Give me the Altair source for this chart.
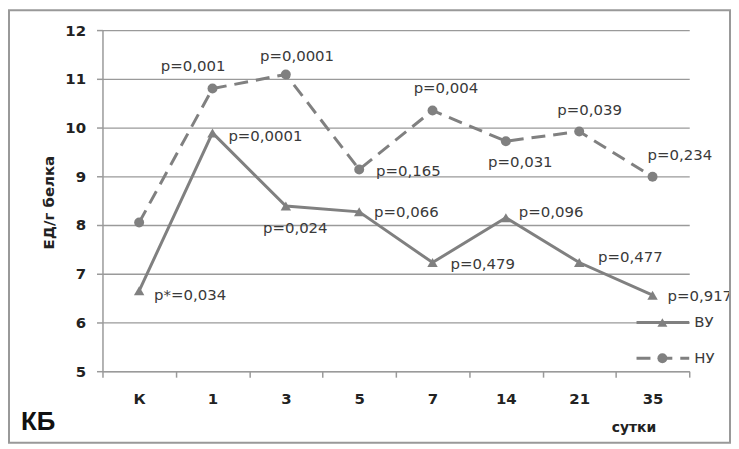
import altair as alt
import pandas as pd

# ---- data ----
days = ["К", "1", "3", "5", "7", "14", "21", "35"]
vu = [6.65, 9.89, 8.39, 8.27, 7.23, 8.15, 7.23, 6.56]
nu = [8.05, 10.80, 11.09, 9.14, 10.35, 9.72, 9.92, 8.99]
p_vu = ["p*=0,034", "p=0,0001", "p=0,024", "p=0,066", "p=0,479", "p=0,096", "p=0,477", "p=0,917"]
p_nu = ["", "p=0,001", "p=0,0001", "p=0,165", "p=0,004", "p=0,031", "p=0,039", "p=0,234"]
series_names = ["ВУ", "НУ"]
y_ticks = [5, 6, 7, 8, 9, 10, 11, 12]

# ---- styling: label offsets (pixels) relative to each point ----
off_vu = [(15, 4), (16, 3), (-23, 22), (15, 0), (18, 2), (13, -6), (19, -6), (15, 1)]
off_nu = [None, (-52, -23), (-26, -19), (17, 2), (-19, -23), (-18, 21), (-22, -22), (-5, -22)]

GRAY = "#808080"
TXT = "#3a3a3a"
FONT = "DejaVu Sans"

df = pd.DataFrame({
    "day": days * 2,
    "value": vu + nu,
    "series": [series_names[0]] * len(days) + [series_names[1]] * len(days),
    "label": p_vu + p_nu,
})

x_enc = alt.X(
    "day:N", sort=days,
    scale=alt.Scale(type="band", paddingInner=0, paddingOuter=0),
    bandPosition=0.5,
    axis=alt.Axis(
        title="сутки", tickBand="extent", labelAngle=0, tickSize=6,
        labelPadding=14, titleX=534, titleY=57, titleAlign="center",
        titleBaseline="middle", grid=False, titleFontSize=14,
    ),
)
y_enc = alt.Y(
    "value:Q",
    scale=alt.Scale(domain=[5, 12], nice=False, zero=False),
    axis=alt.Axis(
        title="ЕД/г белка", values=y_ticks, grid=True, tickSize=6,
        labelPadding=11, titleX=-54, titleY=173, titleAngle=270,
        titleAlign="center", titleBaseline="middle", titleFontSize=15,
    ),
)

base = alt.Chart(df).encode(x=x_enc, y=y_enc)
is_vu = alt.datum.series == series_names[0]
is_nu = alt.datum.series == series_names[1]

line_vu = base.transform_filter(is_vu).mark_line(color=GRAY, strokeWidth=3)
line_nu = base.transform_filter(is_nu).mark_line(color=GRAY, strokeWidth=3, strokeDash=[14, 8])
pts_vu = base.transform_filter(is_vu).mark_point(shape="triangle-up", filled=True, color=GRAY, size=110, opacity=1)
pts_nu = base.transform_filter(is_nu).mark_point(shape="circle", filled=True, color=GRAY, size=100, opacity=1)

layers = [line_vu, line_nu, pts_vu, pts_nu]

for sname, offs in ((series_names[0], off_vu), (series_names[1], off_nu)):
    for d, off in zip(days, offs):
        if off is None:
            continue
        layers.append(
            base.transform_filter((alt.datum.series == sname) & (alt.datum.day == d))
            .mark_text(align="left", baseline="middle", dx=off[0], dy=off[1],
                       font=FONT, fontSize=15, color=TXT)
            .encode(text="label:N")
        )

# ---- manual legend ----
leg_df = pd.DataFrame({"name": series_names})
leg = alt.Chart(leg_df)
leg_rows = [(series_names[0], 294, "triangle-up", []), (series_names[1], 330, "circle", [14, 8])]
for name, yy, shp, dash in leg_rows:
    f = alt.datum.name == name
    rule_kw = dict(color=GRAY, strokeWidth=3)
    if dash:
        rule_kw["strokeDash"] = dash
    layers.append(leg.transform_filter(f).mark_rule(**rule_kw).encode(
        x=alt.value(537), x2=alt.value(590), y=alt.value(yy)))
    layers.append(leg.transform_filter(f).mark_point(shape=shp, filled=True, color=GRAY, size=100, opacity=1).encode(
        x=alt.value(563), y=alt.value(yy)))
    layers.append(leg.transform_filter(f).mark_text(align="left", baseline="middle", font=FONT, fontSize=15, color=TXT).encode(
        x=alt.value(595), y=alt.value(yy), text="name:N"))

# ---- panel tag and frame ----
tag = alt.Chart(pd.DataFrame({"t": ["КБ"]})).mark_text(
    align="left", baseline="middle", font="Liberation Sans", fontWeight="bold", fontSize=26, color="#111"
).encode(x=alt.value(-82), y=alt.value(394), text="t:N")
frame = alt.Chart(pd.DataFrame({"t": [0]})).mark_rect(
    fillOpacity=0, stroke="#999999", strokeWidth=2
).encode(x=alt.value(-94), x2=alt.value(631), y=alt.value(-20), y2=alt.value(415))
layers += [tag, frame]

chart = alt.layer(*layers).properties(
    width=590, height=343,
    autosize=alt.AutoSizeParams(type="none"),
    padding={"left": 95, "top": 21, "right": 42, "bottom": 74},
).configure_view(stroke=None).configure_axis(
    domainColor="#9a9a9a", gridColor="#9a9a9a", tickColor="#9a9a9a",
    domainWidth=1.5, gridWidth=1.3, tickWidth=1.5,
    labelFont=FONT, labelFontWeight="bold", labelFontSize=15, labelColor="#222",
    titleFont=FONT, titleFontWeight="bold", titleColor="#222",
)

chart.save("out.html", embed_options={"renderer": "svg", "actions": False})
